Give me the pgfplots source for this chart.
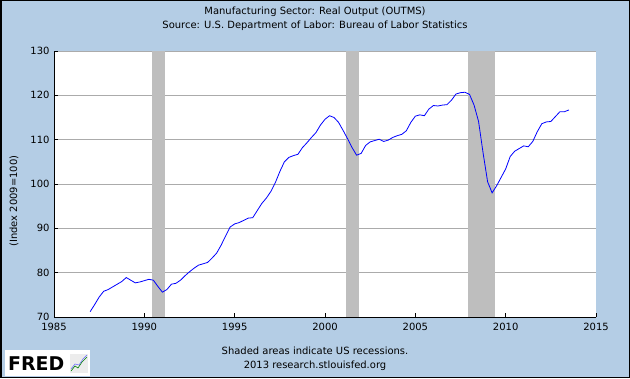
\documentclass[border=0pt]{standalone}
\usepackage{pgfplots}
\pgfplotsset{compat=1.18}
\usepackage{pgfplotstable}
\usepackage{fontspec}
\setmainfont{DejaVu Sans}
\definecolor{fredbg}{HTML}{B4CDE5}
\definecolor{recess}{HTML}{BEBEBE}
\definecolor{gridc}{HTML}{ABABAB}

\pgfplotstableread{
t v
1987.00 71.2
1987.25 72.8
1987.50 74.5
1987.75 75.8
1988.00 76.2
1988.25 76.8
1988.50 77.4
1988.75 78.0
1989.00 78.9
1989.25 78.3
1989.50 77.7
1989.75 77.9
1990.00 78.2
1990.25 78.5
1990.50 78.3
1990.75 76.9
1991.00 75.6
1991.25 76.2
1991.50 77.4
1991.75 77.6
1992.00 78.3
1992.25 79.3
1992.50 80.2
1992.75 81.0
1993.00 81.7
1993.25 82.0
1993.50 82.3
1993.75 83.3
1994.00 84.4
1994.25 86.2
1994.50 88.3
1994.75 90.3
1995.00 91.0
1995.25 91.3
1995.50 91.8
1995.75 92.3
1996.00 92.4
1996.25 94.0
1996.50 95.6
1996.75 96.8
1997.00 98.3
1997.25 100.3
1997.50 102.8
1997.75 105.0
1998.00 106.0
1998.25 106.4
1998.50 106.7
1998.75 108.2
1999.00 109.3
1999.25 110.5
1999.50 111.6
1999.75 113.3
2000.00 114.6
2000.25 115.4
2000.50 115.0
2000.75 113.9
2001.00 112.1
2001.25 110.2
2001.50 108.2
2001.75 106.5
2002.00 106.9
2002.25 108.7
2002.50 109.5
2002.75 109.8
2003.00 110.1
2003.25 109.6
2003.50 109.9
2003.75 110.5
2004.00 110.9
2004.25 111.2
2004.50 112.0
2004.75 113.9
2005.00 115.3
2005.25 115.6
2005.50 115.4
2005.75 116.9
2006.00 117.7
2006.25 117.6
2006.50 117.8
2006.75 117.9
2007.00 118.9
2007.25 120.3
2007.50 120.6
2007.75 120.7
2008.00 120.2
2008.25 117.8
2008.50 114.1
2008.75 107.0
2009.00 100.5
2009.25 98.0
2009.50 99.6
2009.75 101.5
2010.00 103.4
2010.25 106.2
2010.50 107.4
2010.75 108.0
2011.00 108.6
2011.25 108.4
2011.50 109.6
2011.75 111.8
2012.00 113.6
2012.25 114.0
2012.50 114.1
2012.75 115.2
2013.00 116.3
2013.25 116.3
2013.50 116.7
}\outms

\begin{document}
\begin{tikzpicture}[x=1bp,y=1bp]
\fill[fredbg] (0,0) rectangle (630,378);
\draw[black,line width=1.5bp] (0.75,0.75) rectangle (629.25,377.25);
\begin{axis}[
  at={(54bp,61bp)}, anchor=south west,
  scale only axis, width=542bp, height=266bp,
  xmin=1985, xmax=2015, ymin=70, ymax=130,
  xtick={1985,1990,...,2015}, ytick={70,80,...,130},
  axis x line*=bottom, axis y line*=left,
  axis line style={black, line width=0.9bp},
  tick align=inside, major tick length=4bp,
  tick style={black, line width=0.9bp},
  ymajorgrids, grid style={gridc, line width=0.9bp},
  axis background/.style={fill=white},
  ticklabel style={font=\fontsize{10}{12}\selectfont},
  xticklabel style={yshift=-3bp},
  yticklabel style={xshift=-1bp},
  /pgf/number format/assume math mode=true,
  /pgf/number format/1000 sep={},
  clip=true,
]
\addplot[fill=recess, draw=none] coordinates {(1990.43,70) (1990.43,130) (1991.15,130) (1991.15,70)} -- cycle;
\addplot[fill=recess, draw=none] coordinates {(2001.17,70) (2001.17,130) (2001.89,130) (2001.89,70)} -- cycle;
\addplot[fill=recess, draw=none] coordinates {(2007.89,70) (2007.89,130) (2009.43,130) (2009.43,70)} -- cycle;
\addplot[blue, line width=0.8bp] table[x=t, y=v] {\outms};
\end{axis}
\node[font=\fontsize{10}{12}\selectfont] at (315,366) {Manufacturing Sector: Real Output (OUTMS)};
\node[font=\fontsize{10}{12}\selectfont] at (315,352) {Source: U.S. Department of Labor: Bureau of Labor Statistics};
\node[font=\fontsize{10}{12}\selectfont, rotate=90] at (14,177) {(Index 2009=100)};
\node[font=\fontsize{10}{12}\selectfont] at (315,27) {Shaded areas indicate US recessions.};
\node[font=\fontsize{10}{12}\selectfont] at (315,12) {2013 research.stlouisfed.org};
% FRED logo
\fill[white] (5,2) rectangle (90,28);
\node[anchor=west, inner sep=0, font=\bfseries\fontsize{19}{19}\selectfont] at (8,14) {FRED};
\fill[gray!15] (70,5) rectangle (88,24);
\draw[green!50!black, line width=0.6bp] (71,7) -- (75,12) -- (78,10) -- (82,16) -- (87,21);
\draw[blue!60, line width=0.5bp] (71,9) -- (75,14) -- (79,13) -- (83,19) -- (87,23);
\end{tikzpicture}
\end{document}
